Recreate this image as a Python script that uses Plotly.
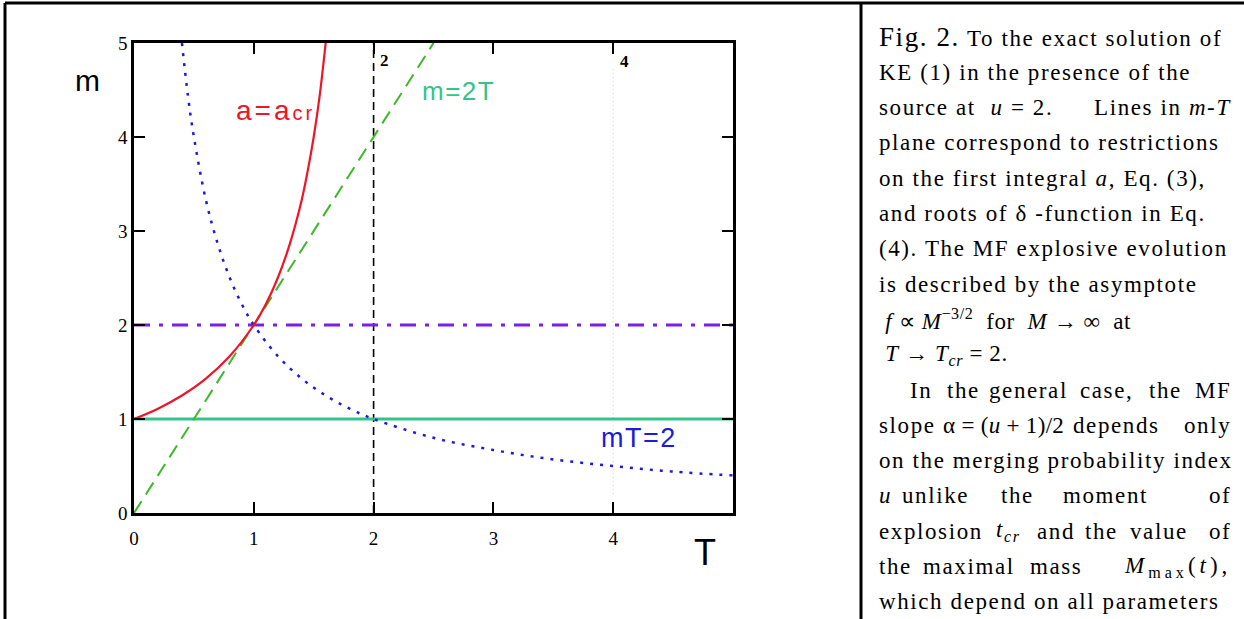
import plotly.graph_objects as go

# curve values (T, m)
red_T = [0, 0.2, 0.4, 0.6, 0.8, 1.0, 1.1, 1.2, 1.3, 1.4, 1.45, 1.5, 1.55, 1.6]
red_m = [1.0, 1.11, 1.25, 1.43, 1.67, 2.0, 2.22, 2.5, 2.86, 3.33, 3.64, 4.0, 4.44, 5.0]

blue_T = [0.4, 0.45, 0.5, 0.6, 0.7, 0.8, 0.9, 1.0, 1.2, 1.4, 1.6, 1.8, 2.0, 2.5, 3.0, 3.5, 4.0, 4.5, 5.0]
blue_m = [5.0, 4.44, 4.0, 3.33, 2.86, 2.5, 2.22, 2.0, 1.67, 1.43, 1.25, 1.11, 1.0, 0.8, 0.67, 0.57, 0.5, 0.44, 0.4]

green_T = [0, 2.5]
green_m = [0, 5]

hline_T = [0, 5]
purple_m = [2, 2]
teal_m = [1, 1]

tcr_T = [2, 2]
tcr_m = [0, 5]
faint_T = [4, 4]
faint_m = [0.2, 4.75]

x_ticks = [0, 1, 2, 3, 4]
y_ticks = [0, 1, 2, 3, 4, 5]

W, H = 1244, 619
SERIF = "Liberation Serif, Times New Roman, serif"
SANS = "Liberation Sans, Arial, sans-serif"

fig = go.Figure()

fig.add_trace(go.Scatter(x=faint_T, y=faint_m, mode="lines",
                         line=dict(color="#a9dcdc", width=1, dash="1px,3px")))
fig.add_trace(go.Scatter(x=tcr_T, y=tcr_m, mode="lines",
                         line=dict(color="black", width=1.6, dash="8px,5px")))
fig.add_trace(go.Scatter(x=hline_T, y=purple_m, mode="lines",
                         line=dict(color="#7a1ee8", width=3, dash="16px,9px,4px,9px")))
fig.add_trace(go.Scatter(x=hline_T, y=teal_m, mode="lines",
                         line=dict(color="#33c48a", width=3)))
fig.add_trace(go.Scatter(x=green_T, y=green_m, mode="lines",
                         line=dict(color="#3cb82a", width=2, dash="14px,8px")))
fig.add_trace(go.Scatter(x=blue_T, y=blue_m, mode="lines", line_shape="spline",
                         line=dict(color="#1a1ae0", width=2.5, dash="3px,7px")))
fig.add_trace(go.Scatter(x=red_T, y=red_m, mode="lines", line_shape="spline",
                         line=dict(color="#ee1526", width=2.2)))

x0, x1 = 134, 733
y0, y1 = 43, 513
axis = dict(showgrid=False, zeroline=False, showline=True, linecolor="black",
            linewidth=2.5, mirror="ticks", ticks="inside", ticklen=11,
            tickwidth=2, tickcolor="black", automargin=False,
            tickfont=dict(family=SERIF, size=19, color="black"))
fig.update_xaxes(axis, range=[0, 5], tickvals=x_ticks, ticklabelstandoff=6,
                 domain=[x0 / W, x1 / W])
fig.update_yaxes(axis, range=[0, 5], tickvals=y_ticks,
                 domain=[1 - y1 / H, 1 - y0 / H])


def px(x, y, text, size, color="black", family=SANS, xanchor="left", ls=0):
    if ls:
        text = "<span style='letter-spacing:%.1fpx'>%s</span>" % (ls, text)
    fig.add_annotation(x=x / W, y=1 - y / H, xref="paper", yref="paper",
                       text=text, showarrow=False, xanchor=xanchor,
                       yanchor="middle",
                       font=dict(family=family, size=size, color=color))


# axis names and curve labels
px(88, 80, "m", 30, xanchor="center", ls=1)
px(705, 552, "T", 36, xanchor="center")
px(234, 110, "a=a<span style='font-size:20px'>cr</span>", 28, "#ee1526", ls=3)
px(420, 91, "m=2T", 26, "#33c48a", ls=1.5)
px(599, 438, "mT=2", 27, "#1a1ae0", ls=1.5)

# top-axis labels
px(378, 60, "<b>2</b>", 17, family=SERIF)
px(618, 62, "<b>4</b>", 17, family=SERIF)

# caption text on the right
L, R = 877, 1233
FS = 23
LS = 1.6
rows = [37 + i * 35.3 for i in range(17)]


def line(i, text, x=L, xanchor="left", ls=LS):
    px(x, rows[i], text, FS, family=SERIF, xanchor=xanchor, ls=ls)


line(0, "<span style='font-size:27px'>Fig. 2.</span> To the exact solution of")
line(1, "KE (1) in the presence of the")
line(2, "source at  <i>u</i> = 2.")
line(2, "Lines in <i>m</i>-<i>T</i>", R, "right")
line(3, "plane correspond to restrictions")
line(4, "on the first integral <i>a</i>, Eq. (3),")
line(5, "and roots of δ -function in Eq.")
line(6, "(4). The MF explosive evolution")
line(7, "is described by the asymptote")
line(8, " <i>f</i> ∝ <i>M</i><sup>−3/2</sup>  for  <i>M</i> → ∞  at", ls=0.6)
line(9, " <i>T</i> → <i>T</i><sub><i>cr</i></sub> = 2.", ls=0.6)

line(10, "In", 908)
line(10, "the", 963, "center")
line(10, "general", 1028, "center")
line(10, "case,", 1106, "center")
line(10, "the", 1165, "center")
line(10, "MF", R, "right")

line(11, "slope")
line(11, "α = (<i>u</i> + 1)/2", 941, ls=0.3)
line(11, "depends", 1116, "center")
line(11, "only", R, "right")

line(12, "on the merging probability index")

line(13, "<i>u</i>")
line(13, "unlike", 935, "center")
line(13, "the", 1017, "center")
line(13, "moment", 1105, "center")
line(13, "of", R, "right")

line(14, "explosion")
line(14, "<i>t</i><sub><i>cr</i></sub>", 1008, "center")
line(14, "and", 1056, "center")
line(14, "the", 1101, "center")
line(14, "value", 1159, "center")
line(14, "of", R, "right")

line(15, "the")
line(15, "maximal", 969, "center")
line(15, "mass", 1056, "center")
line(15, "<i>M</i><sub>max</sub>(<i>t</i>),", R, "right", ls=4)

line(16, "which depend on all parameters")

# table borders
for sx0, sy0, sx1, sy1 in [(5, 3, W, 3), (5, 3, 5, H), (861, 3, 861, H)]:
    fig.add_shape(type="line", xref="paper", yref="paper",
                  x0=sx0 / W, y0=1 - sy0 / H, x1=sx1 / W, y1=1 - sy1 / H,
                  line=dict(color="black", width=3))

fig.update_layout(width=W, height=H,
                  margin=dict(l=0, r=0, t=0, b=0, autoexpand=False),
                  paper_bgcolor="white", plot_bgcolor="white",
                  showlegend=False)

fig.write_html("out.html", config={"displayModeBar": False},
               post_script="document.body.style.margin='0';"
                           "document.body.style.overflow='hidden';")
